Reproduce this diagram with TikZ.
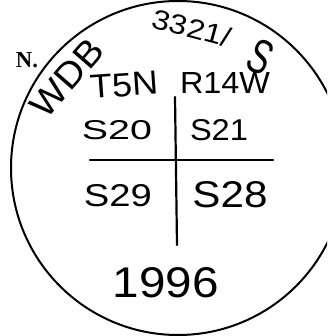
\documentclass[tikz,border=0pt]{standalone}
\usepackage{fontspec}
\usepackage{graphicx}
\newfontfamily\handfont{Liberation Sans}
\newfontfamily\stampfont{Liberation Serif}
\newcommand{\hw}[3]{\resizebox{#1pt}{#2pt}{\handfont #3}}
\newcommand{\sw}[3]{\resizebox{#1pt}{#2pt}{\stampfont\bfseries #3}}
\begin{document}
\begin{tikzpicture}[x=1pt,y=-1pt,
  hand/.style={inner sep=0pt, outer sep=0pt, text=black},
  ink/.style={line width=2.2pt, line cap=round, black}]
\useasboundingbox (0,0) rectangle (327,336);
\begin{scope}
\clip (0,0) rectangle (327,336);
\node[draw, circle, minimum size=334pt, inner sep=0pt, line width=2pt] (ring) at (178,168) {};
\end{scope}
\coordinate (vt) at (175,97);
\coordinate (vb) at (177,245);
\coordinate (hl) at (90,160);
\coordinate (hr) at (273,160);
\draw[ink] (vt) -- (vb);
\draw[ink] (hl) -- (hr);
\node[hand] (north) at (27,60) {\sw{22}{15}{N.}};
\node[hand, rotate=49] (wdb) at (67,78) {\hw{90}{25}{WDB}};
\node[hand, rotate=-15] (num) at (192,28) {\hw{80}{20}{3321/}};
\node[hand, rotate=-25] (bigs) at (261,57) {\hw{22}{34}{S}};
\node[hand, rotate=4] (twp) at (124,85) {\hw{68}{23}{T5N}};
\node[hand] (rng) at (225,83) {\hw{90}{21}{R14W}};
\node[hand] (s20) at (117,130) {\hw{70}{19}{S20}};
\node[hand] (s21) at (219,130) {\hw{58}{21}{S21}};
\node[hand] (s29) at (118,196) {\hw{68}{22}{S29}};
\node[hand] (s28) at (230,195) {\hw{75}{26}{S28}};
\node[hand] (year) at (166,283) {\hw{106}{30}{1996}};
\end{tikzpicture}
\end{document}
